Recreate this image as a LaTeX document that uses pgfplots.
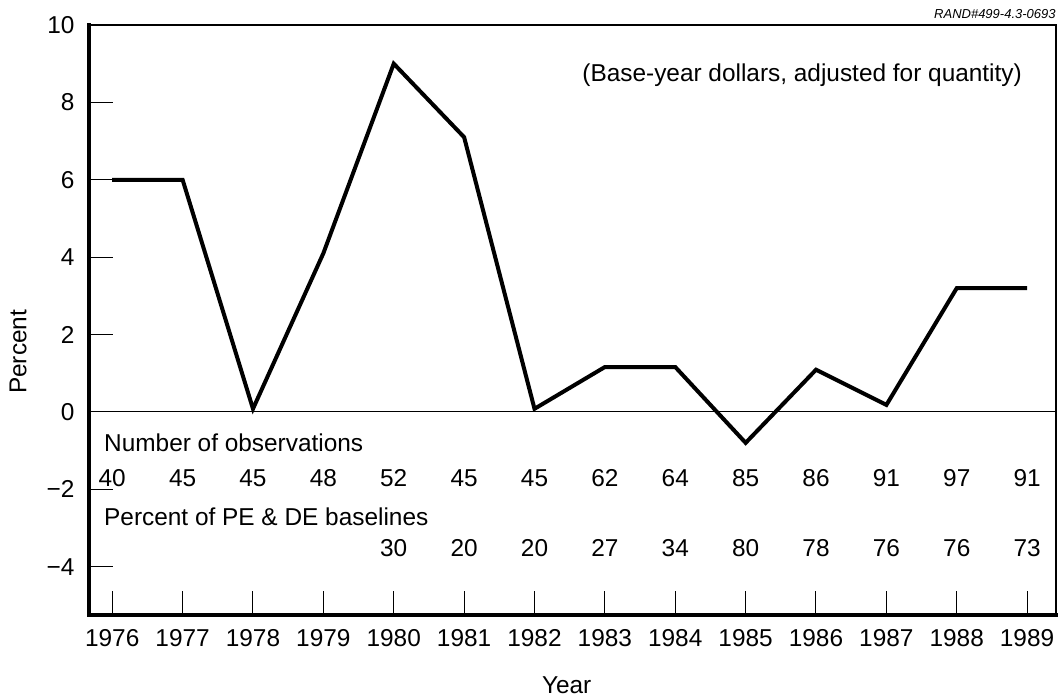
\documentclass[border=0pt]{standalone}
\usepackage{fontspec}
\setmainfont{Liberation Sans}
\usepackage{pgfplots}
\usepackage{pgfplotstable}
\pgfplotsset{compat=1.18}

\pgfplotstableread{
year pct
1976 6.0
1977 6.0
1978 0.08
1979 4.1
1980 9.0
1981 7.1
1982 0.08
1983 1.16
1984 1.16
1985 -0.8
1986 1.09
1987 0.18
1988 3.2
1989 3.2
}\pctdata

\pgfplotstableread{
year y n
1976 -1.70 40
1977 -1.70 45
1978 -1.70 45
1979 -1.70 48
1980 -1.70 52
1981 -1.70 45
1982 -1.70 45
1983 -1.70 62
1984 -1.70 64
1985 -1.70 85
1986 -1.70 86
1987 -1.70 91
1988 -1.70 97
1989 -1.70 91
}\obsdata

\pgfplotstableread{
year y n
1980 -3.51 30
1981 -3.51 20
1982 -3.51 20
1983 -3.51 27
1984 -3.51 34
1985 -3.51 80
1986 -3.51 78
1987 -3.51 76
1988 -3.51 76
1989 -3.51 73
}\basedata

\newcommand{\lf}{\fontsize{12.2}{14.5}\selectfont}

\begin{document}
\lf
\begin{tikzpicture}
\begin{axis}[
  scale only axis,
  width=483.5pt, height=295pt,
  xmin=1975.67, xmax=1989.41,
  ymin=-5.25, ymax=10,
  axis line style={line width=1pt},
  xtick={1976,...,1989},
  xticklabels={1976,1977,1978,1979,1980,1981,1982,1983,1984,1985,1986,1987,1988,1989},
  ytick={-4,-2,0,2,4,6,8,10},
  yticklabels={−4,−2,0,2,4,6,8,10},
  tick align=inside,
  xtick pos=bottom, ytick pos=left,
  major tick length=12pt,
  tick style={line width=0.5pt, black},
  xticklabel style={font=\lf, yshift=-3pt},
  yticklabel style={font=\lf, xshift=-3pt},
  xlabel={Year},
  ylabel={Percent},
  xlabel style={at={(rel axis cs:0.494,0)}, anchor=center, yshift=-35pt, font=\lf},
  ylabel style={at={(rel axis cs:0,0.446)}, anchor=center, yshift=35.5pt, font=\lf},
  clip=false,
]
\draw[line width=0.6pt] (axis cs:1975.67,0) -- (axis cs:1989.41,0);
\draw[line width=1.6pt, line cap=rect] (rel axis cs:0,1) -- (rel axis cs:0,0) -- (rel axis cs:1,0);
\addplot[line width=2pt, black, mark=none, line join=miter] table[x=year, y=pct] {\pctdata};
\addplot[draw=none, mark=none, nodes near coords={\pgfplotspointmeta}, point meta=explicit symbolic,
  every node near coord/.style={anchor=center, inner sep=0pt, text height=8.7pt, text depth=0pt, font=\lf}]
  table[x=year, y=y, meta=n] {\obsdata};
\addplot[draw=none, mark=none, nodes near coords={\pgfplotspointmeta}, point meta=explicit symbolic,
  every node near coord/.style={anchor=center, inner sep=0pt, text height=8.7pt, text depth=0pt, font=\lf}]
  table[x=year, y=y, meta=n] {\basedata};
\node[anchor=west, inner sep=0pt, font=\lf] at (axis cs:1975.88,-0.80) {Number of observations};
\node[anchor=west, inner sep=0pt, font=\lf] at (axis cs:1975.88,-2.71) {Percent of PE \& DE baselines};
\node[anchor=east, inner sep=0pt, font=\lf] at (axis cs:1988.93,8.71) {(Base-year dollars, adjusted for quantity)};
\node[anchor=south east, inner sep=0pt, font=\fontsize{6.5}{8}\selectfont\itshape] at (rel axis cs:1,1) [yshift=3pt] {RAND\#499-4.3-0693};
\end{axis}
\pgfresetboundingbox
\path[use as bounding box] (current axis.south west) ++(-44.5pt,-41.5pt) rectangle ([xshift=1pt,yshift=12.5pt]current axis.north east);
\end{tikzpicture}
\end{document}
